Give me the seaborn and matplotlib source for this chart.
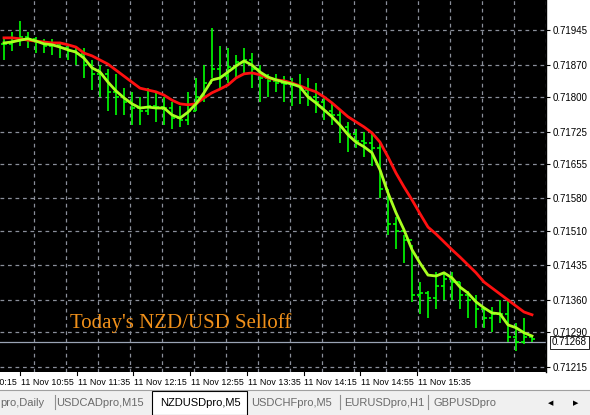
import numpy as np
import pandas as pd
import seaborn as sns
import matplotlib.pyplot as plt
from matplotlib.patches import Rectangle

# NZDUSD M5 bars
closes = [0.71915, 0.71922, 0.71930, 0.71925, 0.71918, 0.71910, 0.71912, 0.71905, 0.71900, 0.71893,
          0.71870, 0.71850, 0.71850, 0.71810, 0.71800, 0.71790, 0.71775, 0.71770, 0.71780, 0.71778,
          0.71775, 0.71755, 0.71750, 0.71770, 0.71800, 0.71830, 0.71860, 0.71845, 0.71865, 0.71875,
          0.71880, 0.71860, 0.71840, 0.71835, 0.71830, 0.71828, 0.71825, 0.71815,
          0.71800, 0.71790, 0.71770, 0.71760, 0.71735, 0.71720, 0.71705, 0.71700, 0.71690, 0.71600,
          0.71525, 0.71510, 0.71490, 0.71370, 0.71375, 0.71365, 0.71390, 0.71405, 0.71400, 0.71370,
          0.71360, 0.71340, 0.71320, 0.71330, 0.71330, 0.71280, 0.71270, 0.71280, 0.71275]
highs = [0.71930, 0.71940, 0.71965, 0.71940, 0.71930, 0.71925, 0.71925, 0.71920, 0.71915, 0.71910,
         0.71905, 0.71880, 0.71870, 0.71860, 0.71850, 0.71820, 0.71810, 0.71800, 0.71820, 0.71810,
         0.71800, 0.71790, 0.71780, 0.71810, 0.71840, 0.71870, 0.71950, 0.71910, 0.71905, 0.71890,
         0.71905, 0.71895, 0.71870, 0.71850, 0.71850, 0.71845, 0.71840, 0.71850,
         0.71840, 0.71830, 0.71800, 0.71790, 0.71770, 0.71745, 0.71730, 0.71725, 0.71720, 0.71700,
         0.71600, 0.71540, 0.71500, 0.71480, 0.71400, 0.71380, 0.71420, 0.71420, 0.71420, 0.71400,
         0.71380, 0.71370, 0.71345, 0.71345, 0.71360, 0.71360, 0.71310, 0.71320, 0.71285]
lows = [0.71880, 0.71900, 0.71910, 0.71905, 0.71895, 0.71895, 0.71890, 0.71885, 0.71880, 0.71870,
        0.71840, 0.71815, 0.71800, 0.71770, 0.71760, 0.71760, 0.71740, 0.71740, 0.71760, 0.71745,
        0.71740, 0.71730, 0.71735, 0.71740, 0.71770, 0.71790, 0.71840, 0.71820, 0.71830, 0.71840,
        0.71850, 0.71820, 0.71790, 0.71800, 0.71810, 0.71790, 0.71780, 0.71785,
        0.71780, 0.71765, 0.71750, 0.71740, 0.71700, 0.71680, 0.71690, 0.71670, 0.71650, 0.71580,
        0.71500, 0.71470, 0.71440, 0.71355, 0.71330, 0.71320, 0.71340, 0.71360, 0.71360, 0.71340,
        0.71320, 0.71300, 0.71300, 0.71290, 0.71310, 0.71270, 0.71250, 0.71265, 0.71270]

# fast (green) and slow (red) moving averages
ma_fast = [0.71917, 0.71919, 0.71923, 0.71926, 0.71921, 0.71915, 0.71913, 0.71908, 0.71902, 0.71897,
           0.71884, 0.71863, 0.71854, 0.71832, 0.71813, 0.71798, 0.71785, 0.71776, 0.71778, 0.71776,
           0.71776, 0.71761, 0.71754, 0.71767, 0.71785, 0.71809, 0.71837, 0.71841, 0.71854, 0.71867,
           0.71878, 0.71869, 0.71854, 0.71843, 0.71837, 0.71832, 0.71828, 0.71822,
           0.71800, 0.71787, 0.71772, 0.71757, 0.71739, 0.71718, 0.71702, 0.71692, 0.71679, 0.71642,
           0.71592, 0.71549, 0.71512, 0.71469, 0.71440, 0.71414, 0.71412, 0.71419, 0.71408, 0.71388,
           0.71375, 0.71356, 0.71343, 0.71332, 0.71330, 0.71306, 0.71300, 0.71289, 0.71282]
ma_slow = [0.71928, 0.71928, 0.71926, 0.71923, 0.71921, 0.71919, 0.71917, 0.71917, 0.71913, 0.71908,
           0.71895, 0.71889, 0.71880, 0.71871, 0.71858, 0.71845, 0.71832, 0.71819, 0.71815, 0.71811,
           0.71804, 0.71793, 0.71785, 0.71783, 0.71785, 0.71798, 0.71809, 0.71817, 0.71826, 0.71841,
           0.71850, 0.71852, 0.71848, 0.71841, 0.71837, 0.71835, 0.71830, 0.71824,
           0.71817, 0.71811, 0.71800, 0.71787, 0.71772, 0.71757, 0.71746, 0.71735, 0.71722, 0.71702,
           0.71670, 0.71635, 0.71605, 0.71577, 0.71547, 0.71518, 0.71503, 0.71486, 0.71469, 0.71453,
           0.71436, 0.71419, 0.71399, 0.71386, 0.71373, 0.71360, 0.71347, 0.71334, 0.71328]

price_ticks = [0.71945, 0.71870, 0.71800, 0.71725, 0.71655, 0.71580, 0.71510, 0.71435, 0.71360, 0.71290, 0.71215]
time_labels = ['11 Nov 10:15', '11 Nov 10:55', '11 Nov 11:35', '11 Nov 12:15', '11 Nov 12:55',
               '11 Nov 13:35', '11 Nov 14:15', '11 Nov 14:55', '11 Nov 15:35']
last_price = 0.71268
tabs = ['pro,Daily', 'USDCADpro,M15', 'NZDUSDpro,M5', 'USDCHFpro,M5', 'EURUSDpro,H1', 'GBPUSDpro']

df = pd.DataFrame({'bar': np.arange(len(closes)), 'close': closes, 'high': highs, 'low': lows,
                   'fast': ma_fast, 'slow': ma_slow})
df['open'] = df['close'].shift(1).fillna(df['close'])

FONT = 'Liberation Sans'
fig = plt.figure(figsize=(5.9, 4.15), dpi=100)
fig.patch.set_facecolor('#f0f0f0')
# white strip behind price/time labels
fig.patches.append(Rectangle((0, 25 / 415), 1, 1 - 25 / 415, transform=fig.transFigure,
                             facecolor='white', zorder=-5))
ax = fig.add_axes([0, 1 - 372 / 415, 546 / 590, 372 / 415])
ax.set_facecolor('black')

# grid
for x in np.arange(3.8, 68, 4):
    ax.axvline(x, color='#8a8f9a', lw=0.9, ls=(0, (3, 3)), zorder=1)
for p in price_ticks:
    ax.axhline(p, color='#8a8f9a', lw=0.9, ls=(0, (3, 3)), zorder=1)
ax.axhline(last_price, color='#9aa4b4', lw=0.9, zorder=1)

# OHLC bars
g = '#00ff00'
ax.vlines(df['bar'], df['low'], df['high'], color=g, lw=1.2, zorder=2)
ax.hlines(df['open'], df['bar'] - 0.4, df['bar'], color=g, lw=1.2, zorder=2)
ax.hlines(df['close'], df['bar'], df['bar'] + 0.4, color=g, lw=1.2, zorder=2)

sns.lineplot(data=df, x='bar', y='slow', ax=ax, color='#ff1010', lw=2, zorder=3)
sns.lineplot(data=df, x='bar', y='fast', ax=ax, color='#a8ff20', lw=2, zorder=4)

ax.set_xlabel('')
ax.set_ylabel('')
for s in ax.spines.values():
    s.set_visible(False)
ax.yaxis.tick_right()
ax.set_yticks(price_ticks)
ax.set_yticklabels([f'{p:.5f}' for p in price_ticks], fontsize=7, family=FONT)
ax.tick_params(axis='y', length=3, pad=2, color='black')
ax.set_xticks([])
ax.set_xlim(-0.5, 67.75)
ax.set_ylim(0.71204, 0.72010)
ax.plot([1.0, 1.0], [0, 1], transform=ax.transAxes, color='black', lw=1, clip_on=False)

# time labels, left-aligned at their ticks
for k, lab in enumerate(time_labels):
    xpos = k * 7.09 - 5.09
    ax.plot([xpos, xpos], [0, -0.008], transform=ax.get_xaxis_transform(), color='black',
            lw=0.8, clip_on=False)
    ax.text(xpos + 0.1, -0.015, lab, transform=ax.get_xaxis_transform(), fontsize=6.4,
            family=FONT, ha='left', va='top')

ax.annotate(f'{last_price:.5f}', xy=(1.0, last_price), xycoords=('axes fraction', 'data'),
            xytext=(4, 0), textcoords='offset points', fontsize=7, va='center', ha='left',
            family=FONT, bbox=dict(boxstyle='square,pad=0.2', fc='white', ec='black', lw=0.6))

ax.text(8.3, 0.71310, "Today's NZD/USD Selloff", color='#f0901a', fontsize=15,
        family='Liberation Serif', va='center', zorder=5)

# tab bar
fig.lines.append(plt.Line2D([0, 1], [25 / 415, 25 / 415], transform=fig.transFigure,
                            color='#a0a0a0', lw=0.8))
tab_c = [22, 100, 200, 292, 384, 465]
for x in [55, 340, 428]:
    fig.lines.append(plt.Line2D([x / 590, x / 590], [6 / 415, 20 / 415],
                                transform=fig.transFigure, color='#909090', lw=0.8))
fig.patches.append(Rectangle((152 / 590, 0), 95 / 590, 24 / 415, transform=fig.transFigure,
                             facecolor='white', edgecolor='black', lw=0.8))
for i, (name, xc) in enumerate(zip(tabs, tab_c)):
    col = 'black' if i == 2 else '#6a6a6a'
    fig.text(xc / 590, 12 / 415, name, fontsize=8, color=col, ha='center', va='center',
             family=FONT)
fig.patches.append(Rectangle((492 / 590, 0), 98 / 590, 24 / 415, transform=fig.transFigure,
                             facecolor='#f0f0f0', edgecolor='none'))
fig.text(551 / 590, 12 / 415, '◀', fontsize=5, ha='center', va='center')
fig.text(576 / 590, 12 / 415, '▶', fontsize=5, ha='center', va='center')

fig.savefig('out.png', dpi=100)
